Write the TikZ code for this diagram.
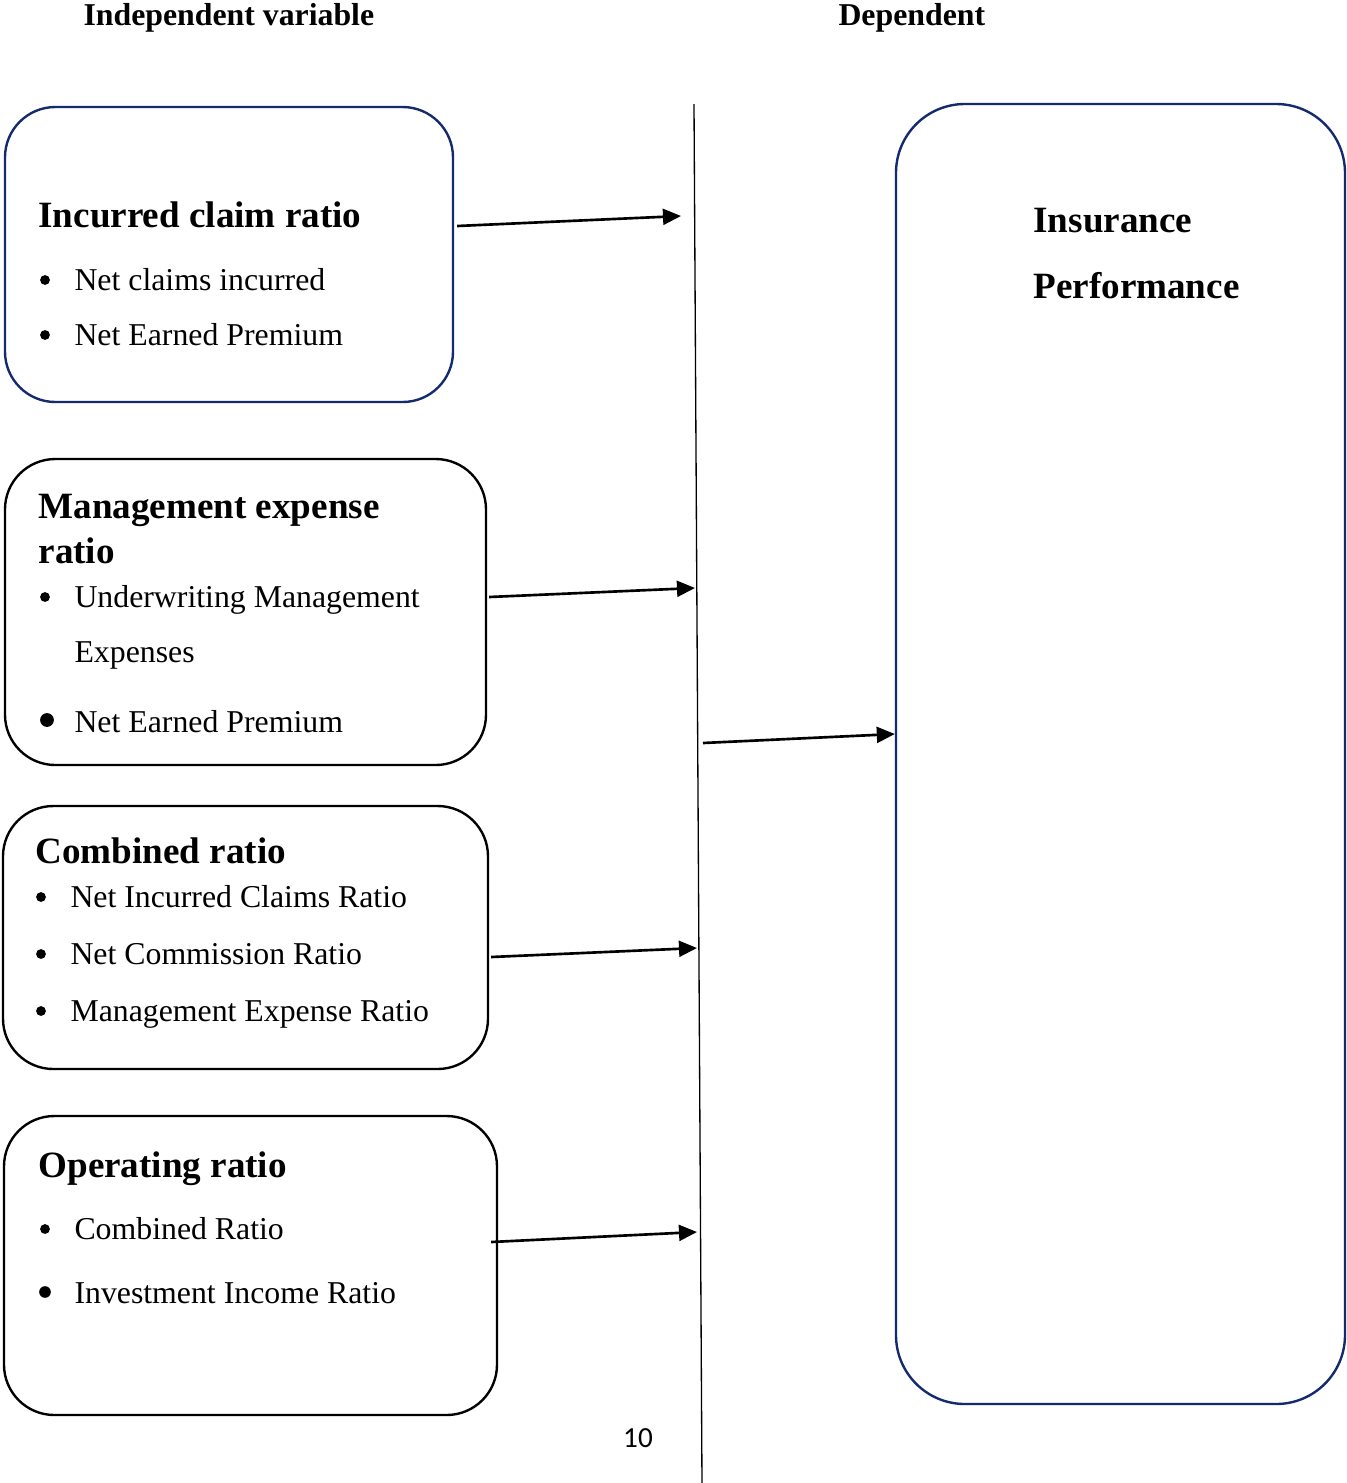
\documentclass[tikz,border=0pt]{standalone}
\usepackage{fontspec}
\setmainfont{Liberation Serif}
\newfontfamily\pagenofont{Carlito}
\usetikzlibrary{arrows.meta,fit,calc}
\definecolor{boxnavy}{RGB}{20,42,110}
\tikzset{
  ratiobox/.style={draw, line width=0.9pt, rounded corners=19pt, inner sep=0pt},
  toparrow/.style={anchor=base west, inner sep=0pt, font=\fontsize{12}{14}\selectfont\bfseries},
  headtext/.style={anchor=base west, inner sep=0pt, font=\fontsize{14}{16}\selectfont\bfseries},
  itemtext/.style={anchor=base west, inner sep=0pt, font=\fontsize{12}{14}\selectfont},
  bul/.style={circle, fill, inner sep=0pt, minimum size=3.7pt},
  toarrow/.style={-{Triangle[length=6.8pt,width=6pt]}, line width=1pt},
}
\begin{document}
\begin{tikzpicture}[x=0.3774pt, y=-0.3774pt]
	\useasboundingbox (0,0) rectangle (1346,1483);

	% column titles
	\node [toparrow] (indep) at (83,25) {Independent variable};
	\node [toparrow] (dep) at (838,25) {Dependent};

	% boxes
	\node [ratiobox, draw=boxnavy, fit={(5,107) (453,402)}] (box1) {};
	\node [ratiobox, fit={(5,459) (486,765)}] (box2) {};
	\node [ratiobox, fit={(3,806) (488,1069)}] (box3) {};
	\node [ratiobox, fit={(4,1116) (497,1415)}] (box4) {};
	\node [ratiobox, draw=boxnavy, rounded corners=26pt, fit={(896,104) (1345,1404)}] (perf) {};

	% box 1
	\node [headtext] (t1) at (38,227) {Incurred claim ratio};
	\node [bul] (d1a) at (45,280) {};
	\node [itemtext] (i1a) at (74,290) {Net claims incurred};
	\node [bul] (d1b) at (45,335) {};
	\node [itemtext] (i1b) at (74,345) {Net Earned Premium};

	% box 2
	\node [headtext] (t2a) at (38,518) {Management expense};
	\node [headtext] (t2b) at (38,563) {ratio};
	\node [bul] (d2a) at (45,597) {};
	\node [itemtext] (i2a) at (74,607) {Underwriting Management};
	\node [itemtext] (i2b) at (74,662) {Expenses};
	\node [bul, minimum size=5.2pt] (d2b) at (47,720) {};
	\node [itemtext] (i2c) at (74,732) {Net Earned Premium};

	% box 3
	\node [headtext] (t3) at (35,863) {Combined ratio};
	\node [bul] (d3a) at (41,897) {};
	\node [itemtext] (i3a) at (70,907) {Net Incurred Claims Ratio};
	\node [bul] (d3b) at (41,954) {};
	\node [itemtext] (i3b) at (70,964) {Net Commission Ratio};
	\node [bul] (d3c) at (41,1011) {};
	\node [itemtext] (i3c) at (70,1021) {Management Expense Ratio};

	% box 4
	\node [headtext] (t4) at (38,1177) {Operating ratio};
	\node [bul] (d4a) at (45,1229) {};
	\node [itemtext] (i4a) at (74,1239) {Combined Ratio};
	\node [bul, minimum size=4.4pt] (d4b) at (45,1292) {};
	\node [itemtext] (i4b) at (74,1303) {Investment Income Ratio};

	% dependent box
	\node [headtext] (p1) at (1033,232) {Insurance};
	\node [headtext] (p2) at (1033,298) {Performance};

	% page number
	\node [anchor=base, inner sep=0pt, font=\pagenofont\fontsize{11}{13}\selectfont] (pgno) at (638,1447) {10};

	% divider
	\coordinate (vtop) at (694,104);
	\coordinate (vbot) at (702,1483);
	\draw [line width=0.5pt] (vtop) -- (vbot);

	% arrows
	\coordinate (e1) at (681,216);
	\coordinate (e2) at (695,588);
	\coordinate (s3) at (703,743);
	\coordinate (e4) at (697,948);
	\coordinate (e5) at (697,1232);
	\draw [toarrow] ($(box1.east)+(3,-28.5)$) -- (e1);
	\draw [toarrow] ($(box2.east)+(2,-15)$) -- (e2);
	\draw [toarrow] (s3) -- (perf.west |- 0,734);
	\draw [toarrow] ($(box3.east)+(2,19.5)$) -- (e4);
	\draw [toarrow] ($(box4.east)+(-7,-23.5)$) -- (e5);
\end{tikzpicture}
\end{document}
